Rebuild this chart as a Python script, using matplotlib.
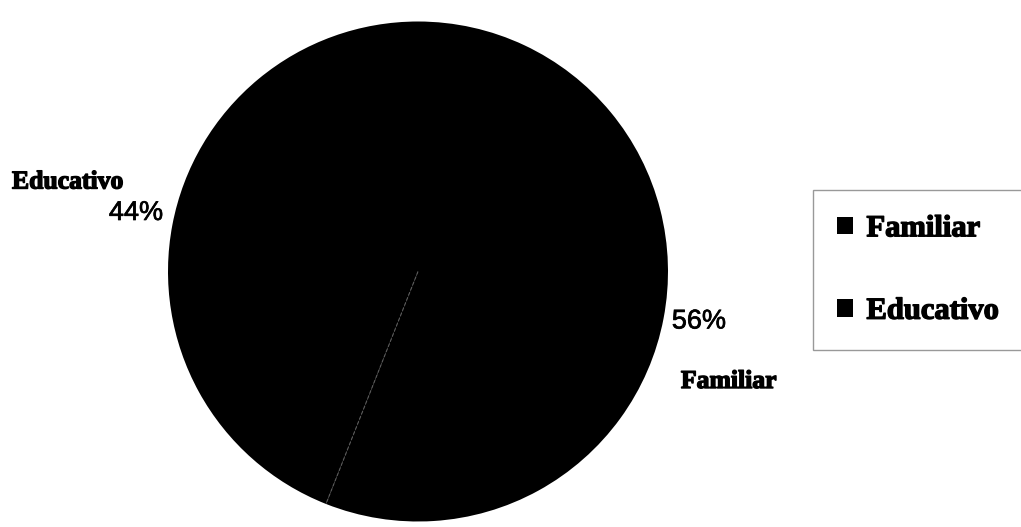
import matplotlib.pyplot as plt
import matplotlib.patheffects as pe
import numpy as np

# data
categories = ['Familiar', 'Educativo']
shares = [56, 44]

fig = plt.figure(figsize=(10.21, 5.27), dpi=100)
# pie axes placed so the circle sits left of the legend
ax = fig.add_axes([168 / 1021, 5.5 / 527, 500 / 1021, 500 / 527])

wedges, _ = ax.pie(shares, colors=['black', 'black'], startangle=90,
                   counterclock=False, radius=1.0,
                   wedgeprops=dict(edgecolor='none', linewidth=0))
ax.set_xlim(-1, 1)
ax.set_ylim(-1, 1)

# dashed separator between the two slices (the one at the top is hidden)
theta = np.deg2rad(wedges[0].theta1)
ax.plot([0, np.cos(theta)], [0, np.sin(theta)], color='#5a5a5a',
        linestyle=(0, (3, 2)), linewidth=0.8)

serif = ['Liberation Serif', 'DejaVu Serif']
sans = ['Liberation Sans', 'DejaVu Sans']
heavy = [pe.withStroke(linewidth=1.0, foreground='black')]

# percentage and category labels
pct_pos = {'Familiar': (1.124, -0.2), 'Educativo': (-1.128, 0.234)}
name_pos = {'Familiar': (1.244, -0.44), 'Educativo': (-1.4, 0.358)}
for cat, val in zip(categories, shares):
    px, py = pct_pos[cat]
    ax.text(px, py, f'{val}%', ha='center', va='center', fontsize=19.5,
            family=sans, color='black', clip_on=False,
            path_effects=[pe.withStroke(linewidth=0.5, foreground='black')])
    nx, ny = name_pos[cat]
    ax.text(nx, ny, cat, ha='center', va='center', fontsize=18.5,
            family=serif, fontweight='bold', clip_on=False,
            path_effects=heavy)

leg = fig.legend(wedges, categories, loc='center left',
                 bbox_to_anchor=(813 / 1021, 1 - 270 / 527),
                 prop=dict(family=serif, weight='bold', size=22),
                 frameon=True, fancybox=False, handlelength=0.5,
                 handleheight=0.5, handletextpad=0.45, labelspacing=1.75,
                 borderpad=0.8, borderaxespad=0)
leg.get_frame().set_edgecolor('#808080')
leg.get_frame().set_linewidth(1.0)
for t in leg.get_texts():
    t.set_path_effects(heavy)

plt.savefig('out.png', dpi=100)
